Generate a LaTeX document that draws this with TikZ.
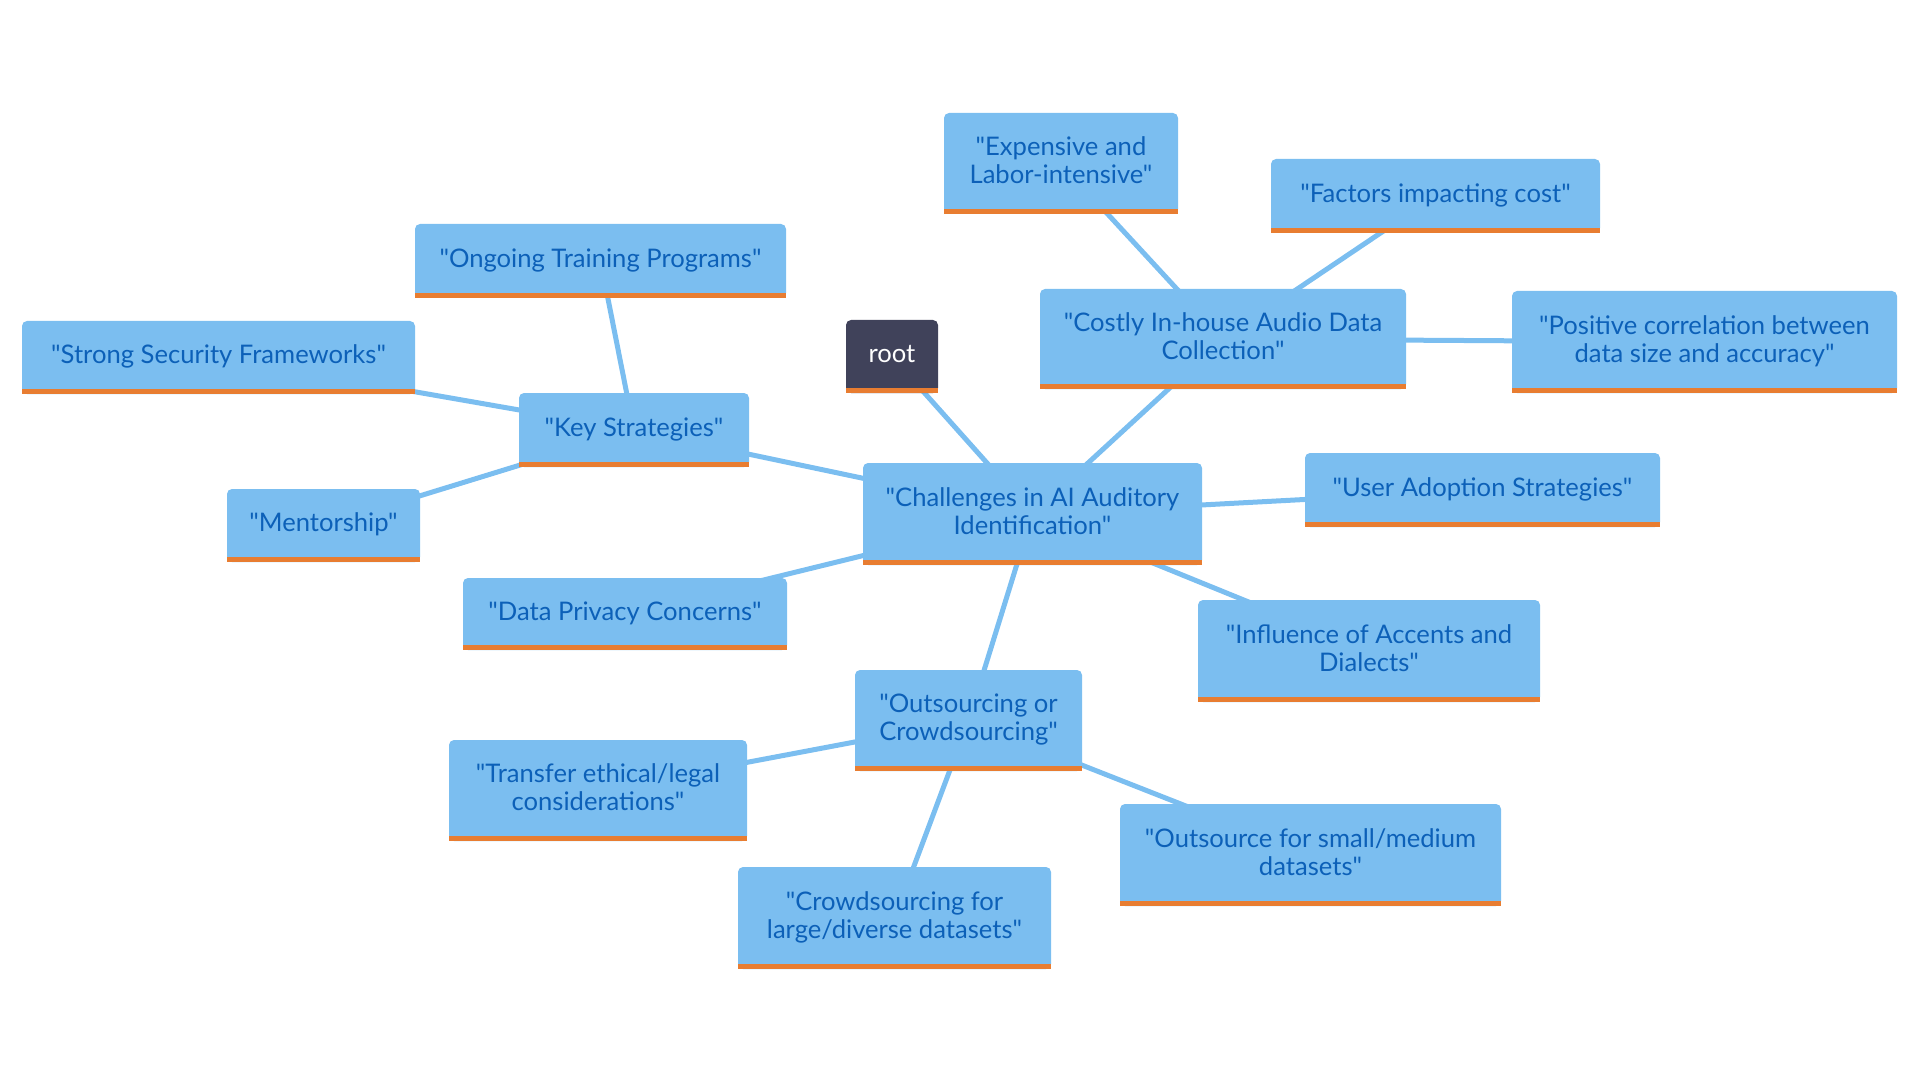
\documentclass[tikz,border=0pt]{standalone}
\usepackage{fontspec}
\setmainfont{Lato}[Ligatures=TeXOff]
\usetikzlibrary{backgrounds}
\definecolor{boxblue}{RGB}{123,190,240}
\definecolor{txtblue}{RGB}{12,96,184}
\definecolor{barorange}{RGB}{232,125,49}
\definecolor{rootfill}{RGB}{64,66,90}
\newcommand\mystrut{\rule[-3.8pt]{0pt}{13.8pt}}
\begin{document}
\begin{tikzpicture}[x=0.5pt,y=-0.5pt,
  mm/.style={rectangle, rounded corners=2.5pt, fill=boxblue, text=txtblue, align=center, inner sep=0pt,
    font=\fontsize{12.8pt}{14pt}\selectfont},
  rootbox/.style={mm, fill=rootfill, text=white},
  sz/.style 2 args={minimum width=#1*0.5pt, minimum height=#2*0.5pt},
  link/.style={draw=boxblue, line width=2.5pt},
  bar/.style={fill=barorange}]
\useasboundingbox (0,0) rectangle (1920,1080);

\node[rootbox, sz={92}{73}] (root) at (892,356.5) {\mystrut root};
\node[mm, sz={339}{102}] (chal) at (1032.5,514) {\mystrut"Challenges in AI Auditory\\\mystrut Identification"};
\node[mm, sz={366}{100}] (costly) at (1223,339) {\mystrut"Costly In-house Audio Data\\\mystrut Collection"};
\node[mm, sz={234}{101}] (exp) at (1061,163.5) {\mystrut"Expensive and\\\mystrut Labor-intensive"};
\node[mm, sz={329}{74}] (fact) at (1435.5,196) {\mystrut"Factors impacting cost"};
\node[mm, sz={385}{102}] (pos) at (1704.5,342) {\mystrut"Positive correlation between\\\mystrut data size and accuracy"};
\node[mm, sz={355}{74}] (user) at (1482.5,490) {\mystrut"User Adoption Strategies"};
\node[mm, sz={342}{102}] (infl) at (1369,651) {\mystrut"Influence of Accents and\\\mystrut Dialects"};
\node[mm, sz={227}{101}] (outcrowd) at (968.5,720.5) {\mystrut"Outsourcing or\\\mystrut Crowdsourcing"};
\node[mm, sz={298}{101}] (transfer) at (598,790.5) {\mystrut"Transfer ethical/legal\\\mystrut considerations"};
\node[mm, sz={313}{102}] (crowd) at (894.5,918) {\mystrut"Crowdsourcing for\\\mystrut large/diverse datasets"};
\node[mm, sz={381}{102}] (outsrc) at (1310.5,855) {\mystrut"Outsource for small/medium\\\mystrut datasets"};
\node[mm, sz={324}{72}] (privacy) at (625,614) {\mystrut"Data Privacy Concerns"};
\node[mm, sz={230}{74}] (key) at (634,430) {\mystrut"Key Strategies"};
\node[mm, sz={371}{74}] (ongoing) at (600.5,261) {\mystrut"Ongoing Training Programs"};
\node[mm, sz={393}{73}] (strong) at (218.5,357.5) {\mystrut"Strong Security Frameworks"};
\node[mm, sz={193}{73}] (mentor) at (323.5,525.5) {\mystrut"Mentorship"};

\foreach \n in {root,chal,costly,exp,fact,pos,user,infl,outcrowd,transfer,crowd,outsrc,privacy,key,ongoing,strong,mentor}
  \fill[bar] (\n.south west) rectangle ([yshift=2.5pt]\n.south east);

\begin{scope}[on background layer]
\draw[link] (root.center) -- (chal.center);
\draw[link] (chal.center) -- (costly.center);
\draw[link] (costly.center) -- (exp.center);
\draw[link] (costly.center) -- (fact.center);
\draw[link] (costly.center) -- (pos.center);
\draw[link] (chal.center) -- (user.center);
\draw[link] (chal.center) -- (infl.center);
\draw[link] (chal.center) -- (outcrowd.center);
\draw[link] (outcrowd.center) -- (transfer.center);
\draw[link] (outcrowd.center) -- (crowd.center);
\draw[link] (outcrowd.center) -- (outsrc.center);
\draw[link] (chal.center) -- (privacy.center);
\draw[link] (chal.center) -- (key.center);
\draw[link] (key.center) -- (ongoing.center);
\draw[link] (key.center) -- (strong.center);
\draw[link] (key.center) -- (mentor.center);
\end{scope}
\end{tikzpicture}
\end{document}
